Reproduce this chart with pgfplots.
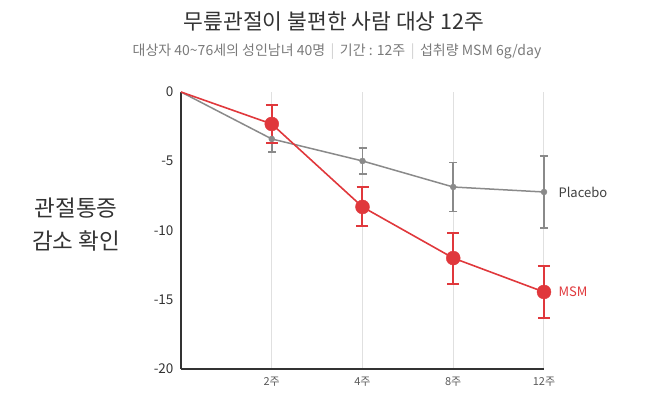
\documentclass[border=0pt]{standalone}
\usepackage{pgfplots}
\pgfplotsset{compat=1.18}
\usepackage{fontspec}
\setmainfont{Noto Sans CJK KR}
\definecolor{msmred}{HTML}{E0383C}
\definecolor{plgray}{HTML}{8A8A8A}
\definecolor{gridgray}{HTML}{E0E0E0}
\definecolor{titlecol}{HTML}{333333}
\definecolor{subcol}{HTML}{7A7A7A}
\definecolor{sepcol}{HTML}{CCCCCC}
\begin{document}
\begin{tikzpicture}
\path[use as bounding box] (0,0) rectangle (667pt,412pt);
\node[text=titlecol, font=\fontsize{21.5}{25}\selectfont] at (334pt,391pt) {무릎관절이 불편한 사람 대상 12주};
\node[text=subcol, font=\fontsize{14}{17}\selectfont] at (337pt,360pt) {대상자 40\textasciitilde76세의 성인남녀 40명 \textcolor{sepcol}{\,|\,} 기간 : 12주 \textcolor{sepcol}{\,|\,} 섭취량 MSM 6g/day};
\node[text=titlecol, font=\fontsize{22.5}{33}\selectfont, align=center] at (76pt,187pt) {관절통증\\감소 확인};
\begin{axis}[
  at={(181pt,43pt)}, anchor=south west,
  scale only axis, width=363pt, height=277pt,
  xmin=0, xmax=4, ymin=-20, ymax=0,
  axis x line*=bottom, axis y line*=left,
  axis line style={-, line width=1.5pt, black!80},
  xtick={1,2,3,4}, xticklabels={2주,4주,8주,12주},
  ytick={-20,-15,-10,-5,0}, yticklabels={-20,-15,-10,-5,0},
  major tick length=0pt,
  xmajorgrids, grid style={gridgray, line width=1pt},
  xticklabel style={text=black!65, font=\fontsize{11}{13}\selectfont, yshift=-4pt},
  yticklabel style={text=titlecol, font=\fontsize{13.5}{16}\selectfont, xshift=-4pt},
  clip=false,
]
% Placebo
\addplot[plgray, line width=1.5pt, no marks] coordinates {(0,0) (1,-3.39) (2,-4.98) (3,-6.86) (4,-7.22)};
\addplot[plgray, only marks, mark=*, mark size=3pt,
  error bars/.cd, y dir=both, y explicit,
  error bar style={plgray, line width=1.5pt},
  error mark options={rotate=90, mark size=4pt, line width=1.5pt, plgray}]
  coordinates {(1,-3.39) +- (0,0.95) (2,-4.98) +- (0,0.94) (3,-6.86) +- (0,1.77) (4,-7.22) +- (0,2.6)};
% MSM
\addplot[msmred, line width=1.6pt, no marks] coordinates {(0,0) (1,-2.31) (2,-8.30) (3,-11.99) (4,-14.44)};
\addplot[msmred, only marks, mark=*, mark size=7pt,
  error bars/.cd, y dir=both, y explicit,
  error bar style={msmred, line width=2pt},
  error mark options={rotate=90, mark size=6pt, line width=2pt, msmred}]
  coordinates {(1,-2.31) +- (0,1.34) (2,-8.30) +- (0,1.41) (3,-11.99) +- (0,1.84) (4,-14.44) +- (0,1.88)};
\node[anchor=west, text=black!75, font=\fontsize{13}{15}\selectfont] at (axis cs:4,-7.22) [xshift=11pt] {Placebo};
\node[anchor=west, text=msmred, font=\fontsize{13}{15}\selectfont] at (axis cs:4,-14.44) [xshift=11pt] {MSM};
\end{axis}
\end{tikzpicture}
\end{document}
